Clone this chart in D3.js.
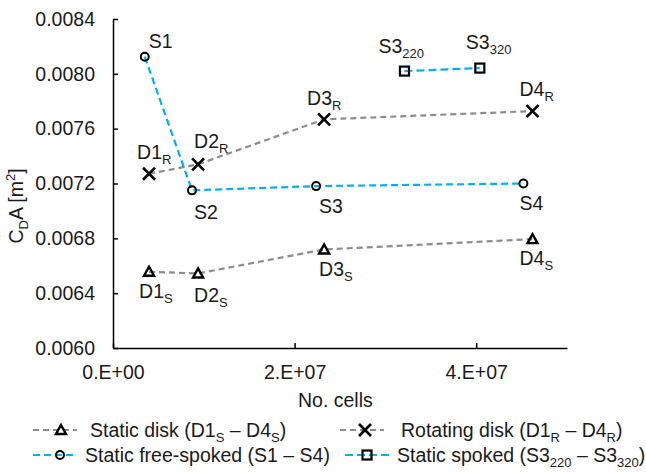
<!DOCTYPE html>
<html lang="en">
<head>
<meta charset="UTF-8">
<title>CdA vs number of cells</title>
<style>
  body { margin: 0; background: #fff; }
  svg { display: block; font-family: "Liberation Sans", Arial, sans-serif; }
  .axis path, .axis line { stroke: #000; stroke-width: 1.5px; }
  .axis text { font-size: 19.5px; fill: #1a1a1a; }
  .lbl { font-size: 19.5px; fill: #1a1a1a; }
</style>
</head>
<body>
<div id="chart"></div>
<script src="https://d3js.org/d3.v7.min.js"></script>
<script>
// data
const diskCells = [3.97e6, 9.37e6, 2.325e7, 4.62e7];
const staticDiskCdA = [0.006556, 0.006544, 0.006719, 0.006794];
const rotatingDiskCdA = [0.007271, 0.00734, 0.007668, 0.007728];
const freeSpokedCells = [3.5e6, 8.7e6, 2.237e7, 4.52e7];
const freeSpokedCdA = [0.008125, 0.00715, 0.007181, 0.0072];
const spokedCells = [3.21e7, 4.04e7];
const spokedCdA = [0.00802, 0.008042];

const staticDiskLabels = [["D1", "S"], ["D2", "S"], ["D3", "S"], ["D4", "S"]];
const rotatingDiskLabels = [["D1", "R"], ["D2", "R"], ["D3", "R"], ["D4", "R"]];
const freeSpokedLabels = [["S1", ""], ["S2", ""], ["S3", ""], ["S4", ""]];
const spokedLabels = [["S3", "220"], ["S3", "320"]];

const xTicks = [0, 2e7, 4e7];
const yTicks = [0.0060, 0.0064, 0.0068, 0.0072, 0.0076, 0.0080, 0.0084];

// label placement relative to each point (px)
const staticDiskOff = [[-10, 26], [-4, 29], [-5, 27], [-13, 26]];
const rotatingDiskOff = [[-12, -15], [-4, -16], [-17, -14], [-13, -15]];
const freeSpokedOff = [[4, -9], [2, 29], [3, 27], [-4, 26]];
const spokedOff = [[-26, -18], [-14, -19]];

const width = 646, height = 472;
const gray = "#8c8c8c", blue = "#00b0f0";

const svg = d3.select("#chart").append("svg")
  .attr("width", width).attr("height", height);

const x = d3.scaleLinear().domain([0, 5e7]).range([113, 567]);
const y = d3.scaleLinear().domain([0.0060, 0.0084]).range([348, 19]);

const sciFmt = d => {
  if (d === 0) return "0.E+00";
  const e = Math.floor(Math.log10(d));
  return Math.round(d / Math.pow(10, e)) + ".E+" + String(e).padStart(2, "0");
};

svg.append("g").attr("class", "axis")
  .attr("transform", `translate(0,${y(0.006)})`)
  .call(d3.axisBottom(x).tickValues(xTicks).tickFormat(sciFmt)
    .tickSizeInner(-5).tickSizeOuter(0).tickPadding(17));

svg.append("g").attr("class", "axis")
  .attr("transform", `translate(${x(0)},0)`)
  .call(d3.axisLeft(y).tickValues(yTicks).tickFormat(d3.format(".4f"))
    .tickSizeInner(-5).tickSizeOuter(0).tickPadding(18));

// axis titles
svg.append("text").attr("class", "lbl")
  .attr("x", (x(0) + x(5e7)) / 2 - 42).attr("y", 407)
  .text("No. cells");

const yt = svg.append("text").attr("class", "lbl")
  .attr("transform", "translate(23,206) rotate(-90)")
  .attr("text-anchor", "middle");
yt.append("tspan").text("C");
yt.append("tspan").attr("dy", 5).attr("font-size", 13).text("D");
yt.append("tspan").attr("dy", -5).text("A [m");
yt.append("tspan").attr("dy", -8).attr("font-size", 13).text("2");
yt.append("tspan").attr("dy", 8).text("]");

// marker shapes
function marker(g, type) {
  if (type === "tri") {
    g.append("path").attr("d", "M0,-5L5,4L-5,4Z")
      .attr("fill", "none").attr("stroke", "#000").attr("stroke-width", 2.4);
  } else if (type === "x") {
    g.append("path").attr("d", "M-6,-6L6,6M-6,6L6,-6")
      .attr("stroke", "#000").attr("stroke-width", 2.6);
  } else if (type === "circle") {
    g.append("circle").attr("r", 4)
      .attr("fill", "none").attr("stroke", "#000").attr("stroke-width", 2);
  } else {
    g.append("rect").attr("x", -4.5).attr("y", -4.5).attr("width", 9).attr("height", 9)
      .attr("fill", "none").attr("stroke", "#000").attr("stroke-width", 2.2);
  }
}

function subLabel(sel, main, sub) {
  sel.append("tspan").text(main);
  if (sub) sel.append("tspan").attr("dy", 5).attr("font-size", 13).text(sub);
}

const series = [
  { cells: diskCells, cda: staticDiskCdA, labels: staticDiskLabels, off: staticDiskOff, color: gray, dash: "6,4", mark: "tri" },
  { cells: diskCells, cda: rotatingDiskCdA, labels: rotatingDiskLabels, off: rotatingDiskOff, color: gray, dash: "6,4", mark: "x" },
  { cells: freeSpokedCells, cda: freeSpokedCdA, labels: freeSpokedLabels, off: freeSpokedOff, color: blue, dash: "7,4", mark: "circle" },
  { cells: spokedCells, cda: spokedCdA, labels: spokedLabels, off: spokedOff, color: blue, dash: "8,4", mark: "square" }
];

const line = d3.line().x(d => x(d[0])).y(d => y(d[1]));

series.forEach(s => {
  const pts = s.cells.map((c, i) => [c, s.cda[i]]);
  svg.append("path").datum(pts)
    .attr("d", line).attr("fill", "none")
    .attr("stroke", s.color).attr("stroke-width", 2.2)
    .attr("stroke-dasharray", s.dash);
  pts.forEach((p, i) => {
    const g = svg.append("g").attr("transform", `translate(${x(p[0])},${y(p[1])})`);
    marker(g, s.mark);
    const t = svg.append("text").attr("class", "lbl")
      .attr("x", x(p[0]) + s.off[i][0]).attr("y", y(p[1]) + s.off[i][1]);
    subLabel(t, s.labels[i][0], s.labels[i][1]);
  });
});

// legend
const legendItems = [
  { parts: [["Static disk (D1", ""], ["S", "sub"], [" – D4", ""], ["S", "sub"], [")", ""]], color: gray, dash: "6,4", mark: "tri", lx: 33, mx: 61, tx: 90, ty: 430 },
  { parts: [["Rotating disk (D1", ""], ["R", "sub"], [" – D4", ""], ["R", "sub"], [")", ""]], color: gray, dash: "6,4", mark: "x", lx: 340, mx: 365, tx: 401, ty: 430 },
  { parts: [["Static free-spoked (S1 – S4)", ""]], color: blue, dash: "7,4", mark: "circle", lx: 33, mx: 60, tx: 85, ty: 455 },
  { parts: [["Static spoked (S3", ""], ["220", "sub"], [" – S3", ""], ["320", "sub"], [")", ""]], color: blue, dash: "8,4", mark: "square", lx: 345, mx: 367, tx: 397, ty: 455 }
];

legendItems.forEach(it => {
  svg.append("line")
    .attr("x1", it.lx).attr("x2", it.lx + 44)
    .attr("y1", it.ty).attr("y2", it.ty)
    .attr("stroke", it.color).attr("stroke-width", 2.2)
    .attr("stroke-dasharray", it.dash);
  const g = svg.append("g").attr("transform", `translate(${it.mx},${it.ty})`);
  marker(g, it.mark);
  const t = svg.append("text").attr("class", "lbl")
    .attr("x", it.tx).attr("y", it.ty + 7);
  let shifted = false;
  it.parts.forEach(p => {
    const ts = t.append("tspan").text(p[0]);
    if (p[1] === "sub") { ts.attr("dy", 5).attr("font-size", 13); shifted = true; }
    else if (shifted) { ts.attr("dy", -5); shifted = false; }
  });
});
</script>
</body>
</html>
